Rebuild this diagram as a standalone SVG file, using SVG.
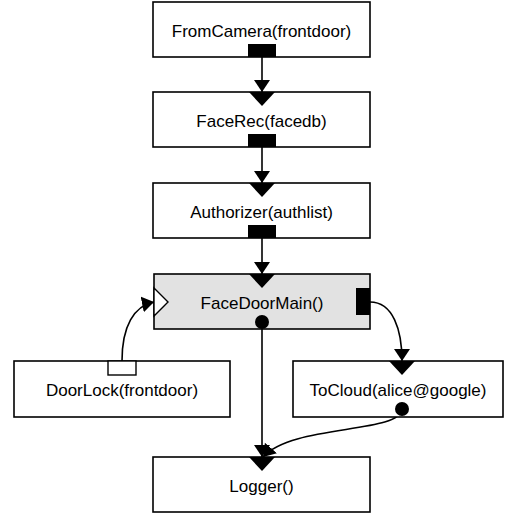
<svg xmlns="http://www.w3.org/2000/svg" width="506" height="516" viewBox="0 0 506 516">
<style>
.box{fill:#fff;stroke:#000;stroke-width:1.6}
.main{fill:#e2e2e2;stroke:#000;stroke-width:1.6}
.lbl{font-family:"Liberation Sans",Arial,sans-serif;font-size:17px;fill:#000;text-anchor:middle}
.out{fill:#000}
.in{fill:#000}
.conn{fill:none;stroke:#000;stroke-width:1.6}
</style>
<defs>
<marker id="arr" markerUnits="userSpaceOnUse" markerWidth="14" markerHeight="18" viewBox="0 0 14 18" refX="12" refY="9" orient="auto">
<path d="M0,1 L12,9 L0,17 Z" fill="#000"/>
</marker>
</defs>
<g id="connectors">
<path class="conn" d="M262,57 L262,92" marker-end="url(#arr)"/>
<path class="conn" d="M262,147 L262,183" marker-end="url(#arr)"/>
<path class="conn" d="M262,238 L262,274" marker-end="url(#arr)"/>
<path class="conn" d="M262,322 L262,457" marker-end="url(#arr)"/>
<path class="conn" d="M402,409 C400,434 292,424 263,457" marker-end="url(#arr)"/>
<path class="conn" d="M370,302 C393,302 402,330 402,361" marker-end="url(#arr)"/>
<path class="conn" d="M122,361 C122,326 134,306 154,302" marker-end="url(#arr)"/>
</g>
<g id="fromcamera">
<rect class="box" x="153" y="2" width="217" height="55"/>
<text class="lbl" x="261.5" y="37">FromCamera(frontdoor)</text>
<rect class="out" x="248" y="44" width="28" height="13"/>
</g>
<g id="facerec">
<rect class="box" x="153" y="92" width="217" height="55"/>
<polygon class="in" points="249,92 275,92 262,106"/>
<text class="lbl" x="261.5" y="127">FaceRec(facedb)</text>
<rect class="out" x="248" y="134" width="28" height="13"/>
</g>
<g id="authorizer">
<rect class="box" x="153" y="183" width="217" height="55"/>
<polygon class="in" points="249,183 275,183 262,197"/>
<text class="lbl" x="261.5" y="218">Authorizer(authlist)</text>
<rect class="out" x="248" y="225" width="28" height="13"/>
</g>
<g id="facedoormain">
<rect class="main" x="154" y="274" width="216" height="55"/>
<polygon class="in" points="249,274 275,274 262,288"/>
<polygon points="154,288 168,302 154,316" fill="#fff" stroke="#000" stroke-width="1.4"/>
<rect class="out" x="356" y="288" width="14" height="27"/>
<circle cx="262" cy="322" r="7" fill="#000"/>
<text class="lbl" x="262" y="309">FaceDoorMain()</text>
</g>
<g id="doorlock">
<rect class="box" x="14" y="361" width="216" height="56"/>
<rect x="108" y="361" width="28" height="14" fill="#fff" stroke="#000" stroke-width="1.4"/>
<text class="lbl" x="122" y="396">DoorLock(frontdoor)</text>
</g>
<g id="tocloud">
<rect class="box" x="293" y="361" width="210" height="56"/>
<polygon class="in" points="389,361 415,361 402,375"/>
<circle cx="402" cy="409" r="7" fill="#000"/>
<text class="lbl" x="398" y="396">ToCloud(alice@google)</text>
</g>
<g id="logger">
<rect class="box" x="153" y="457" width="217" height="55"/>
<polygon class="in" points="249,457 275,457 262,471"/>
<text class="lbl" x="261.5" y="492">Logger()</text>
</g>
</svg>
